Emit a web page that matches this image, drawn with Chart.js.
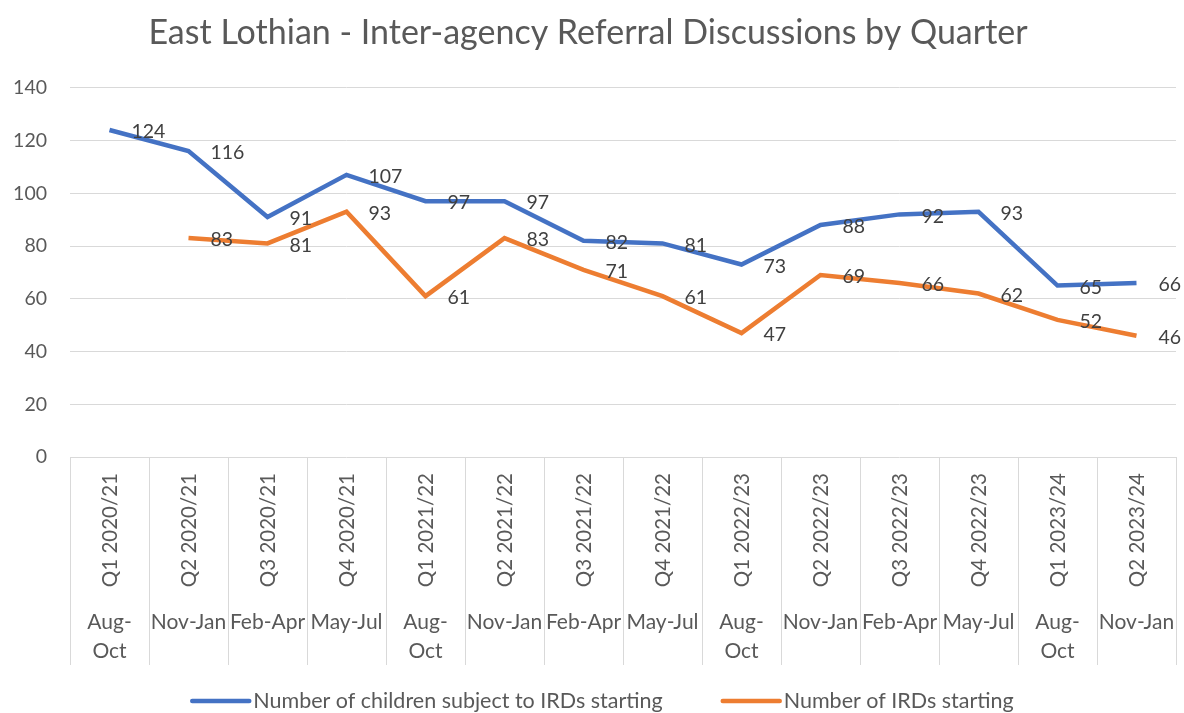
<!DOCTYPE html>
<html>
<head>
<meta charset="utf-8">
<script src="https://cdn.jsdelivr.net/npm/chart.js@4"></script>
<style>
  body { margin: 0; background: #fff; }
</style>
</head>
<body>
<canvas id="irdChart" width="1184" height="713"></canvas>
<script>
// Données du graphique
const quarters = ["Q1 2020/21", "Q2 2020/21", "Q3 2020/21", "Q4 2020/21", "Q1 2021/22", "Q2 2021/22", "Q3 2021/22",
    "Q4 2021/22", "Q1 2022/23", "Q2 2022/23", "Q3 2022/23", "Q4 2022/23", "Q1 2023/24", "Q2 2023/24"];
const months = [["Aug-", "Oct"], ["Nov-Jan"], ["Feb-Apr"], ["May-Jul"], ["Aug-", "Oct"], ["Nov-Jan"], ["Feb-Apr"],
    ["May-Jul"], ["Aug-", "Oct"], ["Nov-Jan"], ["Feb-Apr"], ["May-Jul"], ["Aug-", "Oct"], ["Nov-Jan"]];
const childrenIRDs = [124, 116, 91, 107, 97, 97, 82, 81, 73, 88, 92, 93, 65, 66];
const IRDsStarting = [null, 83, 81, 93, 61, 83, 71, 61, 47, 69, 66, 62, 52, 46];
const yTicks = [0, 20, 40, 60, 80, 100, 120, 140];

const FONT = "Lato";
const textGrey = "#595959";
const gridGrey = "#d9d9d9";

// Étiquettes de données à droite des points
const dataLabels = {
    id: "dataLabels",
    afterDatasetsDraw(chart) {
        const ctx = chart.ctx;
        ctx.save();
        ctx.font = "19.5px " + FONT;
        ctx.fillStyle = "#404040";
        ctx.textAlign = "left";
        ctx.textBaseline = "middle";
        chart.data.datasets.forEach((ds, i) => {
            chart.getDatasetMeta(i).data.forEach((pt, j) => {
                const v = ds.data[j];
                if (v === null) return;
                ctx.fillText(v, pt.x + 22, pt.y + 2);
            });
        });
        ctx.restore();
    }
};

// Axe des catégories à deux niveaux
const twoLevelAxis = {
    id: "twoLevelAxis",
    afterDraw(chart) {
        const ctx = chart.ctx;
        const x = chart.scales.x;
        const base = chart.chartArea.bottom;
        ctx.save();
        ctx.fillStyle = textGrey;
        quarters.forEach((q, i) => {
            const cx = x.getPixelForValue(i);
            ctx.save();
            ctx.font = "20.5px " + FONT;
            ctx.translate(cx + 1, base + 16);
            ctx.rotate(-Math.PI / 2);
            ctx.textAlign = "right";
            ctx.textBaseline = "middle";
            ctx.fillText(q, 0, 0);
            ctx.restore();
            ctx.font = "21px " + FONT;
            ctx.textAlign = "center";
            ctx.textBaseline = "middle";
            months[i].forEach((line, k) => {
                ctx.fillText(line, cx, base + 165 + k * 29);
            });
        });
        ctx.restore();
    }
};

// Légende dessinée en bas
const bottomLegend = {
    id: "bottomLegend",
    afterDraw(chart) {
        const ctx = chart.ctx;
        const y = 701;
        ctx.save();
        ctx.font = "21.5px " + FONT;
        ctx.textBaseline = "middle";
        ctx.textAlign = "left";
        const lineLen = 61, gapText = 2, gapItems = 58;
        const widths = chart.data.datasets.map(ds => lineLen + gapText + ctx.measureText(ds.label).width);
        const total = widths.reduce((a, b) => a + b, 0) + gapItems;
        let xPos = (chart.width - total) / 2 + 10;
        chart.data.datasets.forEach((ds, i) => {
            ctx.strokeStyle = ds.borderColor;
            ctx.lineWidth = 4.5;
            ctx.lineCap = "round";
            ctx.beginPath();
            ctx.moveTo(xPos + 2, y);
            ctx.lineTo(xPos + lineLen - 2, y);
            ctx.stroke();
            ctx.fillStyle = textGrey;
            ctx.fillText(ds.label, xPos + lineLen + gapText, y);
            xPos += widths[i] + gapItems;
        });
        ctx.restore();
    }
};

const ctx = document.getElementById("irdChart").getContext("2d");
new Chart(ctx, {
    type: "line",
    data: {
        labels: quarters,
        datasets: [{
            label: "Number of children subject to IRDs starting",
            data: childrenIRDs,
            borderColor: "#4472C4",
            backgroundColor: "#4472C4",
            borderWidth: 4.5,
            pointRadius: 0,
            tension: 0
        }, {
            label: "Number of IRDs starting",
            data: IRDsStarting,
            borderColor: "#ED7D31",
            backgroundColor: "#ED7D31",
            borderWidth: 4.5,
            pointRadius: 0,
            tension: 0
        }]
    },
    options: {
        responsive: false,
        animation: false,
        layout: { padding: { left: 0, right: 8, top: 0, bottom: 48 } },
        plugins: {
            legend: { display: false },
            tooltip: { enabled: false },
            title: {
                display: true,
                text: "East Lothian - Inter-agency Referral Discussions by Quarter",
                color: textGrey,
                font: { family: FONT, size: 34, weight: "normal", lineHeight: 1.2 },
                padding: { top: 13, bottom: 34 }
            }
        },
        scales: {
            x: {
                offset: true,
                border: { display: false },
                grid: { offset: true, drawOnChartArea: false, drawTicks: true, tickLength: 208, color: gridGrey },
                ticks: { display: false },
                afterFit(scale) { scale.height = 208; }
            },
            y: {
                min: 0,
                max: 140,
                border: { display: false },
                grid: { color: gridGrey, drawTicks: false },
                afterBuildTicks(scale) { scale.ticks = yTicks.map(v => ({ value: v })); },
                ticks: { color: textGrey, padding: 23, font: { family: FONT, size: 19.5 } },
                afterFit(scale) { scale.width = 70; }
            }
        }
    },
    plugins: [dataLabels, twoLevelAxis, bottomLegend]
});
</script>
</body>
</html>
